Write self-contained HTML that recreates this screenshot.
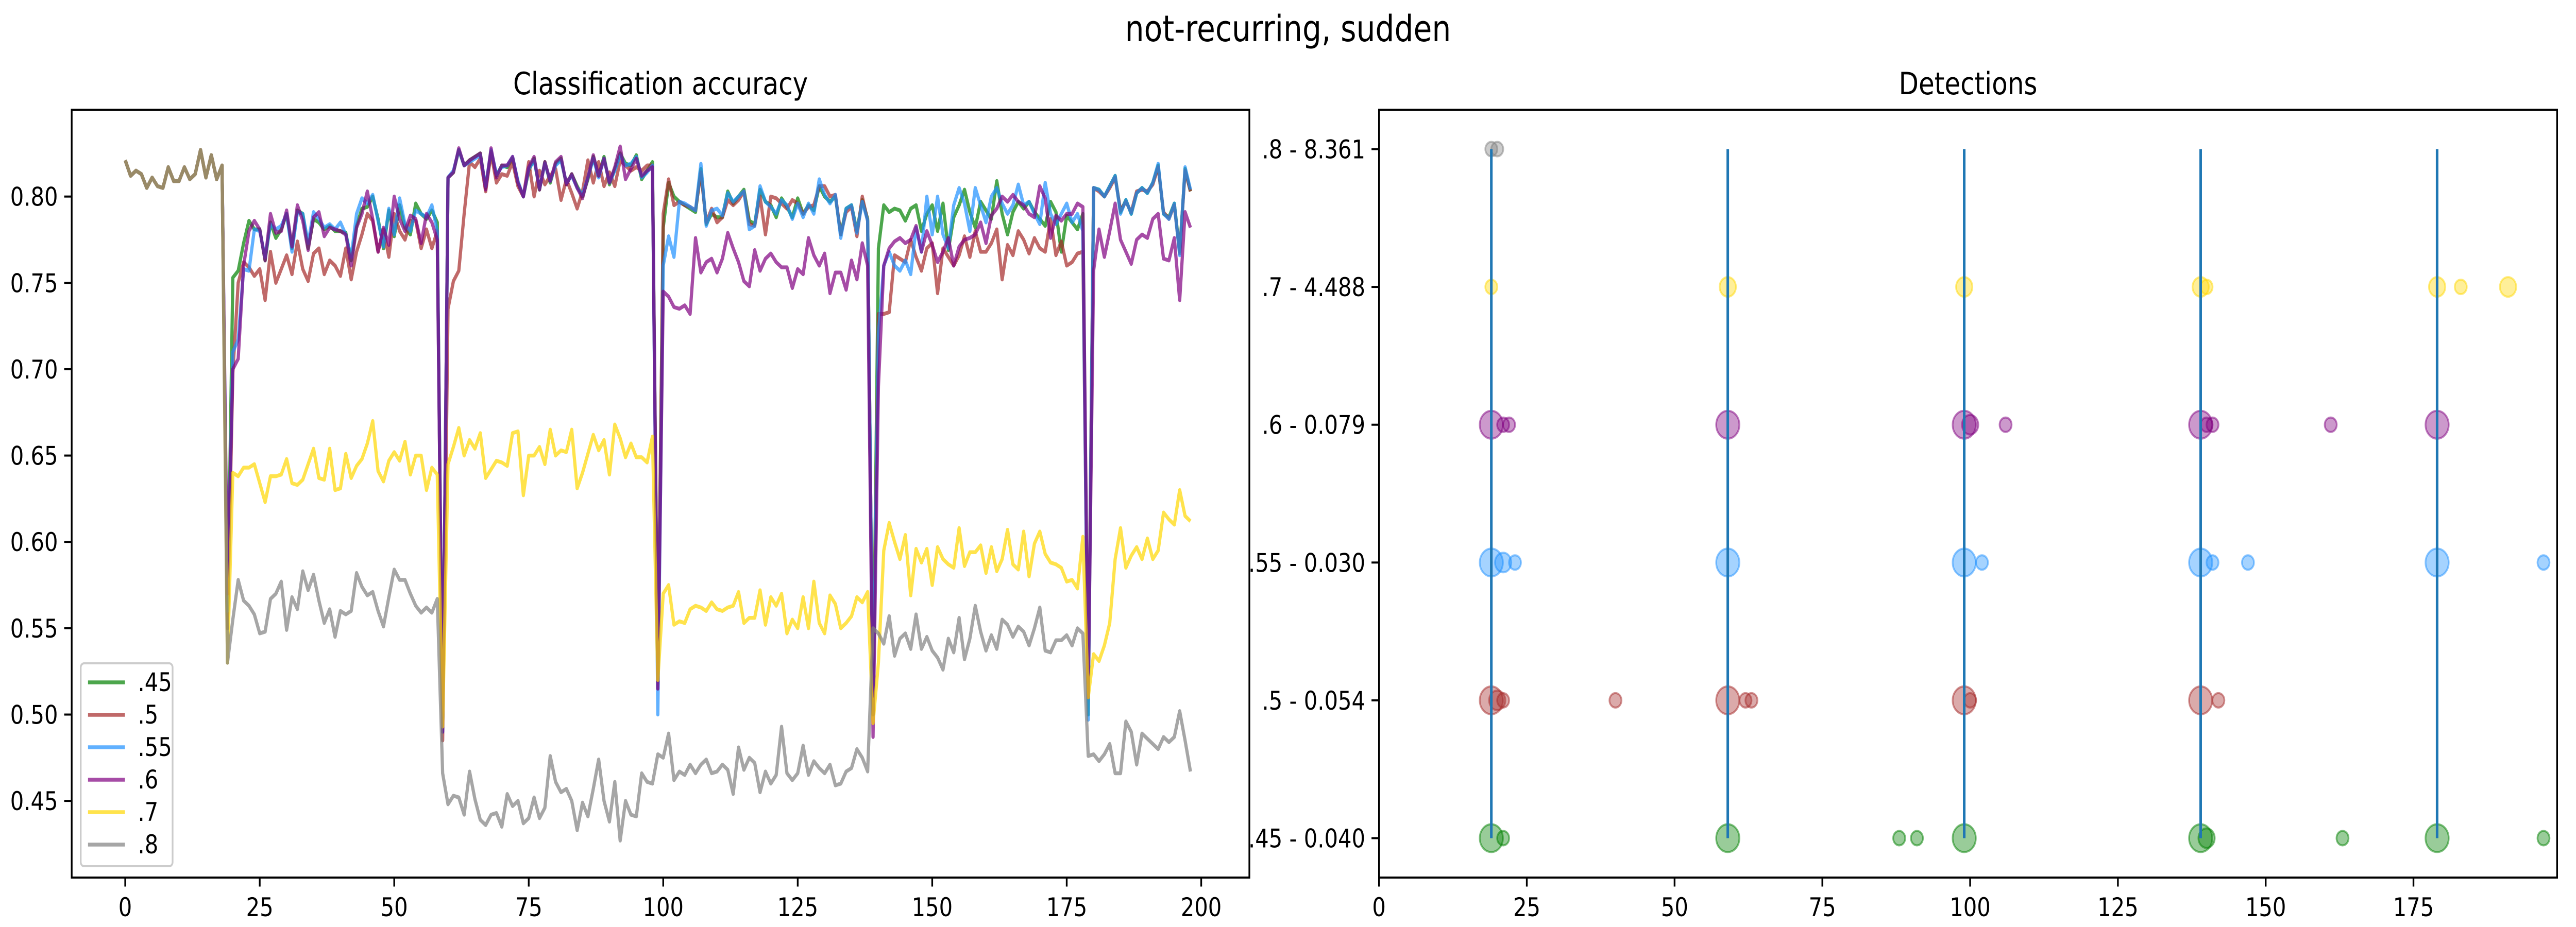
<!DOCTYPE html>
<html><head><meta charset="utf-8"><meta name="viewport" content="width=6000"><style>
html,body{margin:0;padding:0;background:#fff;overflow:hidden;width:100vw;height:100vh}
svg{display:block;width:100vw;height:100vh;font-family:"DejaVu Sans","Liberation Sans",sans-serif}
</style></head><body>
<svg id="fig" viewBox="0 0 6000 1800" preserveAspectRatio="none" xmlns="http://www.w3.org/2000/svg">
<rect width="6000" height="1800" fill="#fff"/>
<text x="3000" y="80" font-size="70" text-anchor="middle">not-recurring, sudden</text>
<g id="left"></g>
<g id="right"></g>
</svg>
<script>
const warmup=[0.821,0.812,0.815,0.813,0.805,0.811,0.806,0.805,0.817,0.809,0.809,0.817,0.810,0.813,0.827,0.811,0.824,0.810,0.818];
const seriesNames=['.45','.5','.55','.6','.7','.8'];
const seriesColors=['#008000','#a52a2a','#1e90ff','#800080','#ffd700','#808080'];
const acc45=warmup.concat([0.55,
0.753,0.757,0.773,0.786,0.781,0.781,0.763,0.785,0.776,0.781,0.790,0.770,0.792,0.790,0.770,0.787,0.785,0.781,0.783,0.780,0.780,0.779,0.763,0.783,0.793,0.794,0.800,0.787,0.770,0.792,0.777,0.795,0.782,0.778,0.796,0.790,0.787,0.792,0.785,
0.49,
0.811,0.814,0.827,0.818,0.821,0.823,0.825,0.805,0.826,0.812,0.818,0.817,0.822,0.808,0.800,0.815,0.822,0.804,0.820,0.808,0.819,0.822,0.807,0.813,0.806,0.800,0.810,0.823,0.812,0.823,0.807,0.816,0.825,0.819,0.818,0.824,0.810,0.815,0.820,
0.52,
0.782,0.808,0.800,0.797,0.795,0.793,0.791,0.816,0.784,0.790,0.788,0.788,0.803,0.796,0.800,0.804,0.786,0.784,0.804,0.797,0.795,0.788,0.799,0.794,0.788,0.799,0.790,0.795,0.792,0.806,0.800,0.797,0.800,0.778,0.793,0.795,0.780,0.798,0.787,
0.50,
0.770,0.795,0.791,0.793,0.792,0.786,0.793,0.795,0.780,0.790,0.795,0.780,0.796,0.769,0.788,0.795,0.804,0.791,0.782,0.797,0.792,0.787,0.809,0.790,0.778,0.791,0.797,0.793,0.797,0.791,0.787,0.783,0.797,0.791,0.768,0.789,0.785,0.781,0.790,
0.50,
0.805,0.804,0.800,0.806,0.812,0.791,0.798,0.790,0.802,0.805,0.802,0.808,0.818,0.790,0.788,0.796,0.768,0.816,0.803]);
const acc5=warmup.concat([0.55,
0.698,0.750,0.762,0.759,0.754,0.758,0.740,0.768,0.750,0.758,0.766,0.755,0.774,0.758,0.751,0.767,0.770,0.755,0.763,0.760,0.754,0.770,0.752,0.768,0.778,0.790,0.786,0.768,0.781,0.765,0.790,0.780,0.775,0.786,0.786,0.770,0.781,0.770,0.780,
0.485,
0.735,0.751,0.757,0.790,0.820,0.817,0.822,0.803,0.825,0.808,0.813,0.812,0.820,0.806,0.800,0.820,0.800,0.815,0.807,0.812,0.816,0.798,0.810,0.802,0.793,0.803,0.821,0.808,0.820,0.806,0.814,0.806,0.821,0.818,0.815,0.817,0.815,0.818,0.818,
0.515,
0.790,0.810,0.795,0.797,0.795,0.794,0.792,0.814,0.785,0.793,0.785,0.788,0.798,0.795,0.798,0.803,0.784,0.783,0.800,0.778,0.800,0.799,0.796,0.793,0.798,0.796,0.790,0.794,0.795,0.806,0.806,0.800,0.801,0.778,0.791,0.794,0.777,0.800,0.786,
0.50,
0.732,0.732,0.733,0.766,0.764,0.762,0.775,0.765,0.757,0.770,0.773,0.744,0.770,0.765,0.760,0.766,0.777,0.765,0.780,0.768,0.768,0.773,0.781,0.752,0.772,0.766,0.780,0.775,0.767,0.776,0.770,0.768,0.787,0.766,0.774,0.760,0.762,0.767,0.768,
0.51,
0.805,0.803,0.800,0.805,0.811,0.792,0.797,0.791,0.803,0.804,0.803,0.807,0.817,0.791,0.787,0.795,0.767,0.815,0.803]);
const acc55=warmup.concat([0.56,
0.710,0.717,0.758,0.757,0.781,0.780,0.765,0.784,0.781,0.783,0.790,0.768,0.791,0.790,0.773,0.791,0.787,0.782,0.784,0.781,0.785,0.778,0.765,0.790,0.799,0.796,0.801,0.786,0.771,0.793,0.778,0.799,0.784,0.780,0.792,0.790,0.788,0.795,0.780,
0.49,
0.811,0.815,0.827,0.818,0.820,0.822,0.824,0.806,0.827,0.813,0.817,0.818,0.823,0.809,0.800,0.816,0.821,0.805,0.819,0.809,0.818,0.821,0.808,0.812,0.805,0.801,0.811,0.822,0.811,0.822,0.808,0.815,0.824,0.818,0.819,0.823,0.811,0.814,0.818,
0.50,
0.760,0.777,0.765,0.797,0.796,0.794,0.792,0.819,0.783,0.792,0.793,0.789,0.802,0.797,0.800,0.803,0.781,0.783,0.806,0.797,0.794,0.790,0.798,0.795,0.787,0.796,0.788,0.796,0.790,0.810,0.801,0.796,0.801,0.776,0.793,0.795,0.779,0.797,0.786,
0.50,
0.720,0.760,0.768,0.760,0.757,0.763,0.755,0.782,0.768,0.800,0.778,0.800,0.778,0.770,0.795,0.805,0.796,0.780,0.805,0.795,0.785,0.800,0.805,0.796,0.790,0.795,0.807,0.795,0.797,0.790,0.784,0.808,0.790,0.784,0.790,0.796,0.785,0.790,0.780,
0.497,
0.805,0.804,0.800,0.806,0.812,0.790,0.798,0.790,0.802,0.805,0.802,0.808,0.819,0.790,0.787,0.796,0.766,0.817,0.804]);
const acc6=warmup.concat([0.57,
0.700,0.706,0.760,0.780,0.786,0.781,0.763,0.790,0.779,0.780,0.792,0.771,0.795,0.786,0.769,0.788,0.791,0.777,0.782,0.781,0.780,0.778,0.760,0.782,0.790,0.803,0.787,0.768,0.782,0.772,0.800,0.787,0.780,0.789,0.787,0.773,0.790,0.785,0.775,
0.49,
0.811,0.814,0.828,0.818,0.821,0.823,0.825,0.804,0.828,0.811,0.818,0.818,0.823,0.808,0.800,0.817,0.823,0.804,0.820,0.809,0.820,0.823,0.807,0.813,0.805,0.799,0.811,0.824,0.812,0.822,0.808,0.817,0.829,0.810,0.816,0.822,0.812,0.815,0.817,
0.515,
0.745,0.742,0.736,0.735,0.737,0.732,0.776,0.756,0.762,0.764,0.756,0.764,0.779,0.770,0.762,0.751,0.748,0.769,0.757,0.764,0.767,0.762,0.759,0.759,0.747,0.758,0.755,0.776,0.766,0.760,0.767,0.744,0.756,0.756,0.746,0.763,0.752,0.773,0.760,
0.487,
0.690,0.760,0.770,0.774,0.776,0.773,0.775,0.783,0.768,0.780,0.772,0.762,0.768,0.776,0.760,0.771,0.775,0.776,0.778,0.785,0.773,0.789,0.793,0.800,0.797,0.801,0.797,0.795,0.790,0.788,0.806,0.799,0.776,0.789,0.786,0.790,0.790,0.796,0.794,
0.51,
0.757,0.781,0.765,0.780,0.796,0.775,0.768,0.761,0.775,0.778,0.776,0.787,0.790,0.764,0.763,0.776,0.740,0.791,0.782]);
const acc7=warmup.concat([0.53,
0.640,0.638,0.643,0.643,0.645,0.634,0.623,0.638,0.638,0.639,0.648,0.634,0.633,0.636,0.645,0.654,0.637,0.636,0.654,0.630,0.631,0.651,0.637,0.644,0.648,0.657,0.670,0.641,0.635,0.647,0.652,0.647,0.658,0.639,0.650,0.650,0.630,0.643,0.639,
0.493,
0.645,0.655,0.666,0.650,0.659,0.654,0.663,0.637,0.642,0.647,0.646,0.644,0.663,0.664,0.627,0.650,0.650,0.655,0.645,0.665,0.650,0.653,0.652,0.665,0.631,0.640,0.651,0.662,0.653,0.659,0.639,0.668,0.660,0.649,0.657,0.649,0.649,0.646,0.661,
0.52,
0.570,0.575,0.552,0.554,0.553,0.561,0.563,0.562,0.560,0.565,0.561,0.560,0.562,0.563,0.571,0.553,0.556,0.556,0.572,0.552,0.568,0.563,0.570,0.547,0.555,0.550,0.568,0.550,0.577,0.553,0.547,0.569,0.564,0.550,0.553,0.557,0.568,0.565,0.571,
0.495,
0.530,0.595,0.611,0.600,0.590,0.604,0.569,0.596,0.588,0.596,0.575,0.597,0.590,0.587,0.585,0.608,0.586,0.594,0.594,0.598,0.582,0.597,0.583,0.590,0.607,0.587,0.584,0.606,0.580,0.599,0.606,0.593,0.588,0.587,0.585,0.577,0.578,0.573,0.603,
0.51,
0.535,0.531,0.540,0.553,0.590,0.608,0.585,0.592,0.597,0.590,0.602,0.590,0.595,0.617,0.613,0.610,0.630,0.615,0.612]);
const acc8=warmup.concat([0.53,
0.555,0.578,0.566,0.563,0.558,0.547,0.548,0.567,0.570,0.577,0.549,0.568,0.561,0.583,0.572,0.581,0.566,0.553,0.561,0.545,0.560,0.558,0.560,0.582,0.574,0.569,0.571,0.560,0.551,0.568,0.584,0.578,0.578,0.570,0.563,0.559,0.562,0.559,0.567,
0.466,
0.448,0.453,0.452,0.442,0.467,0.451,0.439,0.436,0.442,0.443,0.435,0.454,0.447,0.450,0.437,0.440,0.452,0.440,0.446,0.476,0.461,0.455,0.457,0.450,0.433,0.449,0.441,0.457,0.474,0.450,0.438,0.461,0.427,0.450,0.442,0.441,0.466,0.461,0.460,
0.477,
0.475,0.489,0.462,0.467,0.465,0.471,0.466,0.471,0.474,0.466,0.467,0.471,0.468,0.454,0.481,0.468,0.475,0.472,0.455,0.467,0.460,0.465,0.493,0.466,0.462,0.466,0.482,0.465,0.473,0.469,0.466,0.471,0.459,0.460,0.467,0.469,0.480,0.475,0.467,
0.550,
0.547,0.541,0.557,0.534,0.544,0.547,0.538,0.558,0.538,0.545,0.537,0.533,0.526,0.544,0.536,0.556,0.532,0.544,0.563,0.548,0.537,0.546,0.538,0.555,0.552,0.545,0.551,0.548,0.540,0.550,0.562,0.537,0.536,0.543,0.543,0.546,0.540,0.550,0.547,
0.476,
0.477,0.473,0.477,0.483,0.466,0.466,0.496,0.490,0.471,0.489,0.486,0.483,0.480,0.487,0.484,0.487,0.502,0.485,0.467]);
const accSeries=[acc45,acc5,acc55,acc6,acc7,acc8];
const xTicksLeft=[0,25,50,75,100,125,150,175,200];
const yTicksLeft=[0.45,0.50,0.55,0.60,0.65,0.70,0.75,0.80];
const detRowLabels=['.45 - 0.040','.5 - 0.054','.55 - 0.030','.6 - 0.079','.7 - 4.488','.8 - 8.361'];
const driftPoints=[19,59,99,139,179];
const detRows=[0,0,0,0,0,0,0,0,0,0,0, 1,1,1,1,1,1,1,1,1,1,1, 2,2,2,2,2,2,2,2,2,2,2, 3,3,3,3,3,3,3,3,3,3,3,3, 4,4,4,4,4,4,4,4, 5,5];
const detX=[19,21,59,88,91,99,139,140,163,179,197, 19,20,21,40,59,62,63,99,100,139,142, 19,21,23,59,99,102,139,141,147,179,197, 19,21,22,59,99,100,106,139,140,141,161,179, 19,59,99,139,140,179,183,191, 19,20];
const detSize=[3,1,3,1,1,3,3,2,1,3,1, 3,2,1,1,3,1,1,3,1,3,1, 3,2,1,3,3,1,3,1,1,3,1, 3,1,1,3,3,2,1,3,1,1,1,3,1, 2,2,2,1,2,1,2,1, 1,1];
const xTicksRight=[0,25,50,75,100,125,150,175];

const NS='http://www.w3.org/2000/svg';
function mk(parent,tag,attrs){const e=document.createElementNS(NS,tag);for(const k in attrs)e.setAttribute(k,attrs[k]);parent.appendChild(e);return e;}

const L={x0:167,x1:2910,y0:213,y1:1704,xmin:-9.95,xmax:208.95,ymin:0.4056,ymax:0.8503};
const lx=v=>L.x0+(v-L.xmin)/(L.xmax-L.xmin)*(L.x1-L.x0);
const ly=v=>L.y1-(v-L.ymin)/(L.ymax-L.ymin)*(L.y1-L.y0);
const gl=document.getElementById('left');
let t=mk(gl,'text',{x:(L.x0+L.x1)/2,y:183,'font-size':60,'text-anchor':'middle'});t.textContent='Classification accuracy';


accSeries.forEach((arr,si)=>{
  const pts=arr.map((v,i)=>lx(i).toFixed(1)+','+ly(v).toFixed(1)).join(' ');
  const p=mk(gl,'polyline',{points:pts,fill:'none',stroke:seriesColors[si],'stroke-width':7.5,'stroke-linejoin':'round','stroke-opacity':0.7});
  
  
});
xTicksLeft.forEach(v=>{
  mk(gl,'line',{x1:lx(v),x2:lx(v),y1:L.y1,y2:L.y1+17.5,stroke:'#000','stroke-width':4});
  const e=mk(gl,'text',{x:lx(v),y:L.y1+75,'font-size':50,'text-anchor':'middle'});e.textContent=String(v);
  
  
});
yTicksLeft.forEach(v=>{
  mk(gl,'line',{x1:L.x0-17.5,x2:L.x0,y1:ly(v),y2:ly(v),stroke:'#000','stroke-width':4});
  const e=mk(gl,'text',{x:L.x0-32,y:ly(v)+18,'font-size':50,'text-anchor':'end'});e.textContent=v.toFixed(2);
  
  
});
mk(gl,'rect',{x:L.x0,y:L.y0,width:L.x1-L.x0,height:L.y1-L.y0,fill:'none',stroke:'#000','stroke-width':4});
const lg=mk(gl,'g',{});


mk(lg,'rect',{x:188,y:1288,width:214,height:394,rx:8,fill:'#fff','fill-opacity':0.8,stroke:'#ccc','stroke-width':4});
seriesNames.forEach((n,i)=>{
  const y=1325+i*63;
  mk(lg,'line',{x1:205,x2:291,y1:y,y2:y,stroke:seriesColors[i],'stroke-width':7.5,'stroke-opacity':0.7});
  const e=mk(lg,'text',{x:321,y:y+17,'font-size':50});e.textContent=n;
  
  
});

const R={x0:3212,x1:5956,y0:213,y1:1704,xmin:0,xmax:199.3,ymin:-0.286,ymax:5.286};
const rx=v=>R.x0+(v-R.xmin)/(R.xmax-R.xmin)*(R.x1-R.x0);
const ry=v=>R.y1-(v-R.ymin)/(R.ymax-R.ymin)*(R.y1-R.y0);
const gr=document.getElementById('right');
t=mk(gr,'text',{x:(R.x0+R.x1)/2,y:183,'font-size':60,'text-anchor':'middle'});t.textContent='Detections';


const sizeR=[0,14,19,27];
detX.forEach((x,i)=>{
  const c=mk(gr,'circle',{cx:rx(x),cy:ry(detRows[i]),r:sizeR[detSize[i]],fill:seriesColors[detRows[i]],'fill-opacity':0.4,stroke:seriesColors[detRows[i]],'stroke-width':4,'stroke-opacity':0.5});
  
  
});
driftPoints.forEach(x=>{
  const l=mk(gr,'line',{x1:rx(x),x2:rx(x),y1:ry(0),y2:ry(5),stroke:'#1f77b4','stroke-width':6});
  
  
});
xTicksRight.forEach(v=>{
  mk(gr,'line',{x1:rx(v),x2:rx(v),y1:R.y1,y2:R.y1+17.5,stroke:'#000','stroke-width':4});
  const e=mk(gr,'text',{x:rx(v),y:R.y1+75,'font-size':50,'text-anchor':'middle'});e.textContent=String(v);
  
  
});
detRowLabels.forEach((s,i)=>{
  mk(gr,'line',{x1:R.x0-17.5,x2:R.x0,y1:ry(i),y2:ry(i),stroke:'#000','stroke-width':4});
  const e=mk(gr,'text',{x:R.x0-32,y:ry(i)+18,'font-size':50,'text-anchor':'end'});e.textContent=s;
  
  
});
mk(gr,'rect',{x:R.x0,y:R.y0,width:R.x1-R.x0,height:R.y1-R.y0,fill:'none',stroke:'#000','stroke-width':4});
</script>
</body></html>
